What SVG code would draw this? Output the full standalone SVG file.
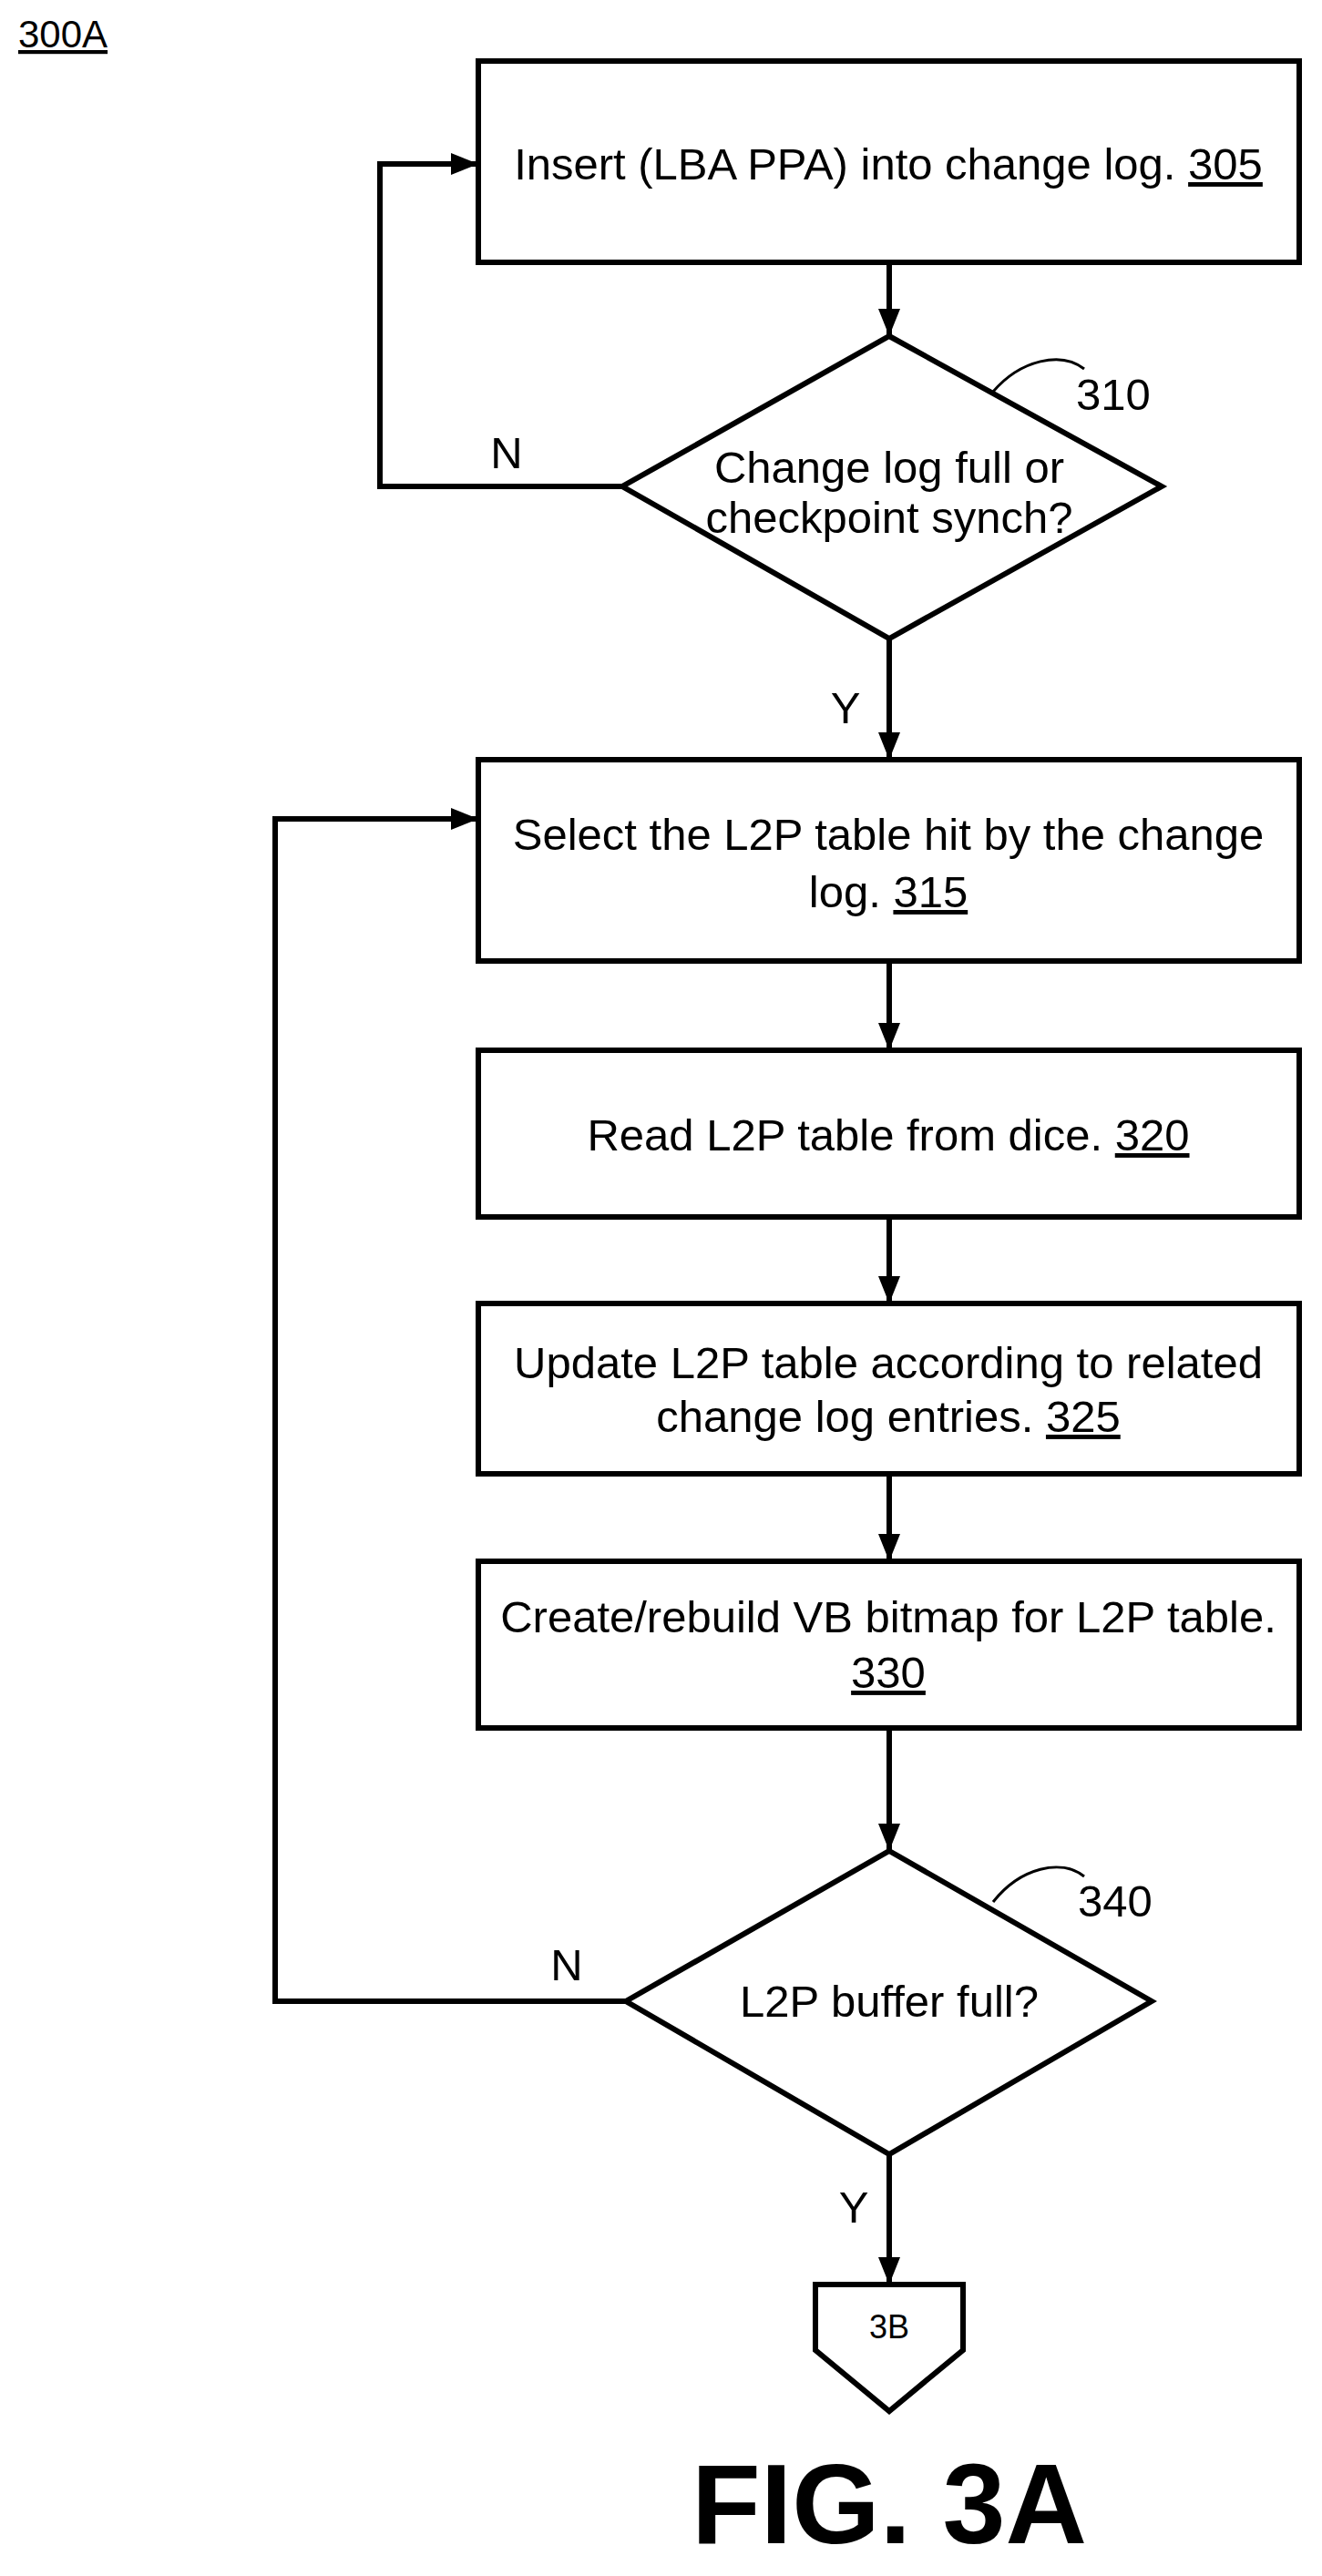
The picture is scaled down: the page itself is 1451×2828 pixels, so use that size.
<svg xmlns="http://www.w3.org/2000/svg" width="1451" height="2828" viewBox="0 0 1451 2828">
<style>
.s{fill:#fff;stroke:#000;stroke-width:6}
.l{fill:none;stroke:#000;stroke-width:6}
.t{font-family:"Liberation Sans",Arial,sans-serif;font-size:49px;fill:#000;text-anchor:middle}
.u{text-decoration:underline}
</style>
<defs>
<marker id="b" viewBox="0 0 10 10" refX="10" refY="5" markerWidth="30" markerHeight="30" orient="auto" markerUnits="userSpaceOnUse"><path d="M0,1 L10,5 L0,9 z" fill="#000"/></marker>
</defs>
<rect width="1451" height="2828" fill="#fff"/>
<text x="20" y="52" style="font-family:'Liberation Sans',Arial,sans-serif;font-size:42px;text-decoration:underline">300A</text>
<g id="connectors">
<line class="l" x1="976" y1="288" x2="976" y2="369" marker-end="url(#b)"/>
<polyline class="l" points="683,534 417,534 417,180 525,180" marker-end="url(#b)"/>
<line class="l" x1="976" y1="701" x2="976" y2="834" marker-end="url(#b)"/>
<line class="l" x1="976" y1="1055" x2="976" y2="1153" marker-end="url(#b)"/>
<line class="l" x1="976" y1="1336" x2="976" y2="1431" marker-end="url(#b)"/>
<line class="l" x1="976" y1="1618" x2="976" y2="1714" marker-end="url(#b)"/>
<line class="l" x1="976" y1="1897" x2="976" y2="2032" marker-end="url(#b)"/>
<polyline class="l" points="687,2197 302,2197 302,899 525,899" marker-end="url(#b)"/>
<line class="l" x1="976" y1="2365" x2="976" y2="2508" marker-end="url(#b)"/>
<text class="t" x="556" y="514">N</text>
<text class="t" x="928" y="794">Y</text>
<text class="t" x="622" y="2174">N</text>
<text class="t" x="937" y="2440">Y</text>
</g>
<g id="n305"><rect class="s" x="525" y="67" width="901" height="221"/>
<text class="t" x="975" y="197">Insert (LBA PPA) into change log. <tspan class="u">305</tspan></text></g>
<g id="n310"><polygon class="s" points="976,369 1275,534 976,701 683,534"/>
<text class="t" x="976" y="530">Change log full or</text>
<text class="t" x="976" y="585">checkpoint synch?</text>
<path class="l" style="stroke-width:3" d="M1090,430 C1120,395 1165,385 1190,405"/>
<text class="t" x="1222" y="450">310</text></g>
<g id="n315"><rect class="s" x="525" y="834" width="901" height="221"/>
<text class="t" x="975" y="933">Select the L2P table hit by the change</text>
<text class="t" x="975" y="996">log. <tspan class="u">315</tspan></text></g>
<g id="n320"><rect class="s" x="525" y="1153" width="901" height="183"/>
<text class="t" x="975" y="1263">Read L2P table from dice. <tspan class="u">320</tspan></text></g>
<g id="n325"><rect class="s" x="525" y="1431" width="901" height="187"/>
<text class="t" x="975" y="1513">Update L2P table according to related</text>
<text class="t" x="975" y="1572">change log entries. <tspan class="u">325</tspan></text></g>
<g id="n330"><rect class="s" x="525" y="1714" width="901" height="183"/>
<text class="t" x="975" y="1792">Create/rebuild VB bitmap for L2P table.</text>
<text class="t" x="975" y="1853"><tspan class="u">330</tspan></text></g>
<g id="n340"><polygon class="s" points="976,2032 1264,2197 976,2365 687,2197"/>
<text class="t" x="976" y="2214">L2P buffer full?</text>
<path class="l" style="stroke-width:3" d="M1090,2088 C1120,2050 1165,2040 1190,2060"/>
<text class="t" x="1224" y="2104">340</text></g>
<g id="n3b"><polygon class="s" points="895,2508 1057,2508 1057,2580 976,2647 895,2580"/>
<text class="t" x="976" y="2567" style="font-size:36px">3B</text></g>
<text x="976" y="2792" style="font-family:'Liberation Sans',Arial,sans-serif;font-size:124px;font-weight:bold;text-anchor:middle">FIG. 3A</text>
</svg>
